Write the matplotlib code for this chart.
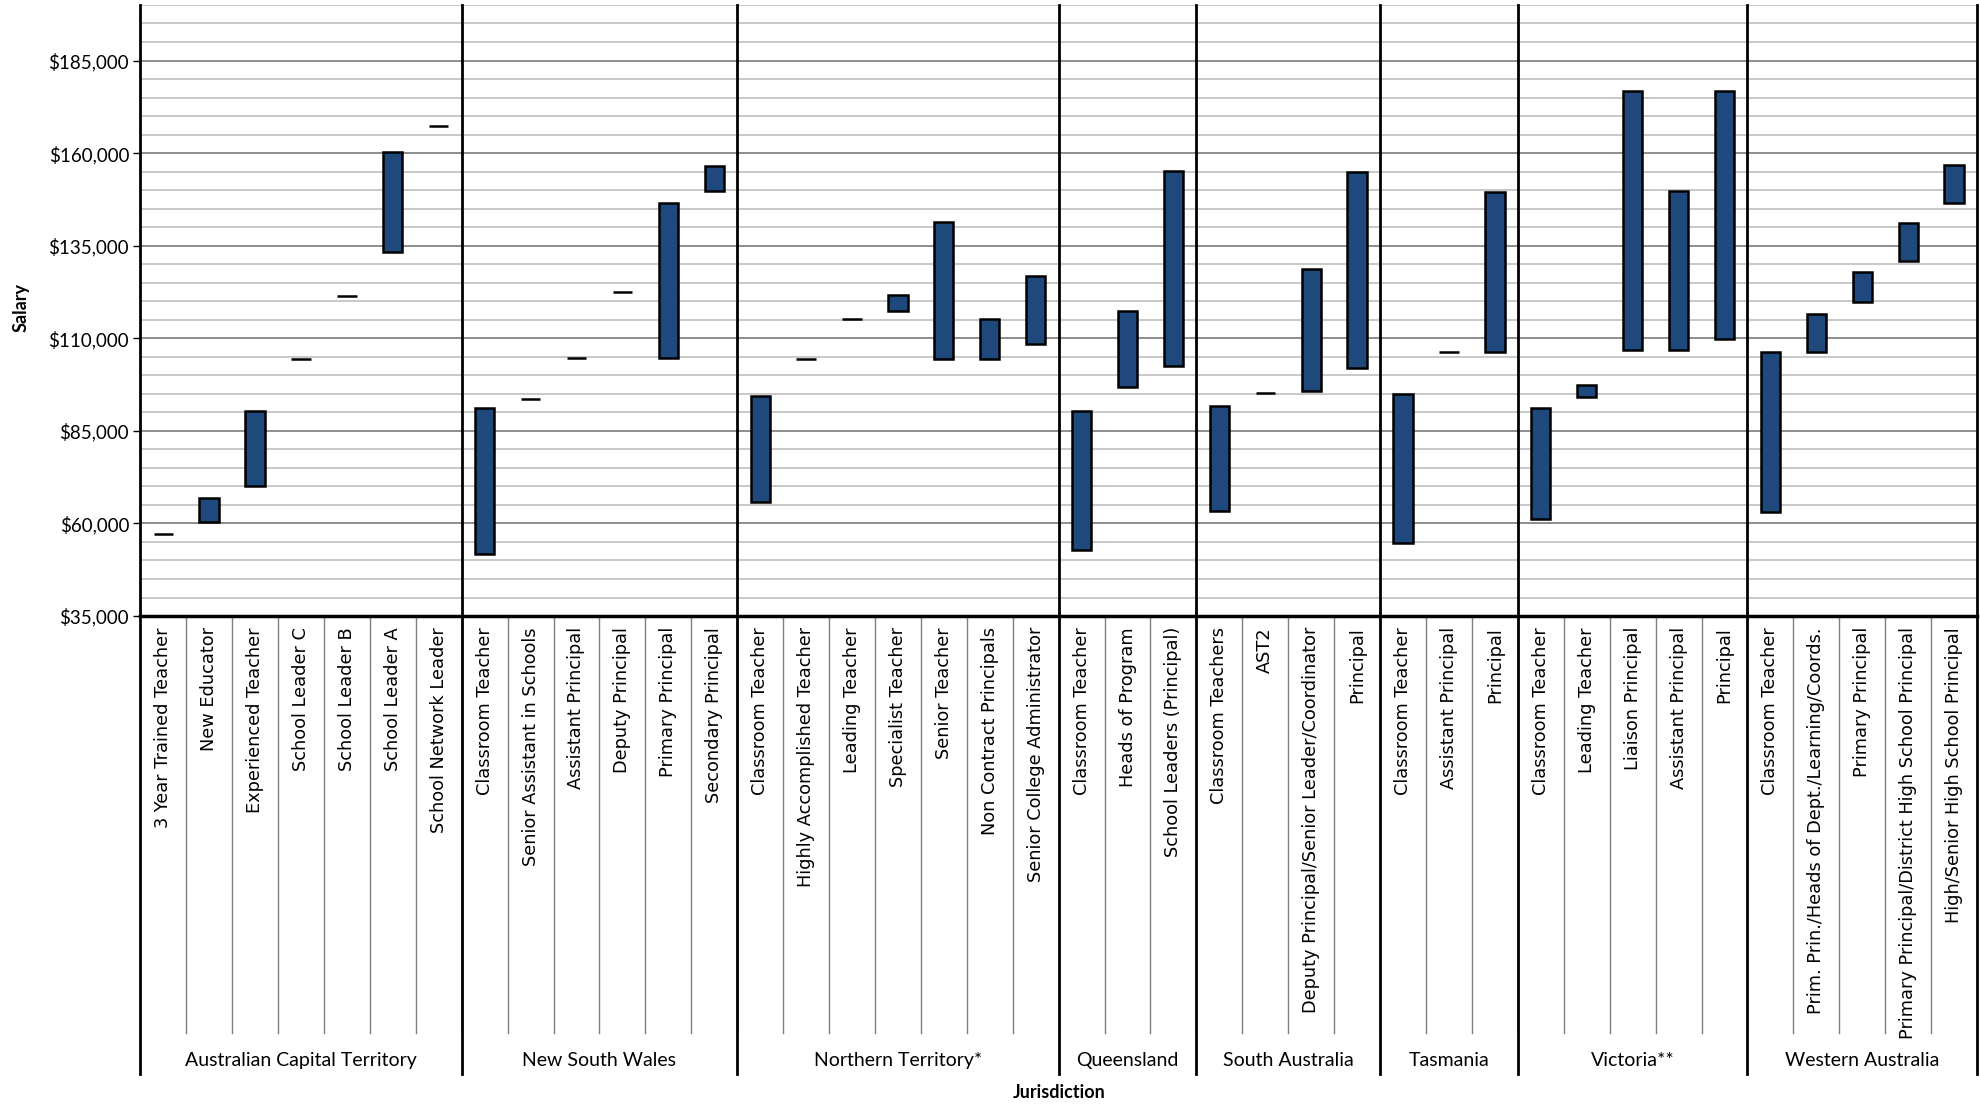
import matplotlib.pyplot as plt
from matplotlib.ticker import MultipleLocator, FuncFormatter
import matplotlib.transforms as mtransforms

# jurisdictions and how many roles each has
jurisdictions = ['Australian Capital Territory', 'New South Wales', 'Northern Territory*',
                 'Queensland', 'South Australia', 'Tasmania', 'Victoria**', 'Western Australia']
group_sizes = [7, 6, 7, 3, 4, 3, 5, 5]

roles = [
    '3 Year Trained Teacher', 'New Educator', 'Experienced Teacher', 'School Leader C',
    'School Leader B', 'School Leader A', 'School Network Leader',
    'Classroom Teacher', 'Senior Assistant in Schools', 'Assistant Principal',
    'Deputy Principal', 'Primary Principal', 'Secondary Principal',
    'Classroom Teacher', 'Highly Accomplished Teacher', 'Leading Teacher',
    'Specialist Teacher', 'Senior Teacher', 'Non Contract Principals',
    'Senior College Administrator',
    'Classroom Teacher', 'Heads of Program', 'School Leaders (Principal)',
    'Classroom Teachers', 'AST2', 'Deputy Principal/Senior Leader/Coordinator', 'Principal',
    'Classroom Teacher', 'Assistant Principal', 'Principal',
    'Classroom Teacher', 'Leading Teacher', 'Liaison Principal', 'Assistant Principal',
    'Principal',
    'Classroom Teacher', 'Prim. Prin./Heads of Dept./Learning/Coords.', 'Primary Principal',
    'Primary Principal/District High School Principal', 'High/Senior High School Principal',
]

salary_low = [
    57200, 60400, 70100, 104300, 121500, 133400, 167200,
    51700, 93500, 104800, 122400, 104800, 149900,
    65800, 104400, 115300, 117400, 104400, 104400, 108500,
    52800, 96800, 102500,
    63400, 95100, 95700, 102000,
    54600, 106300, 106300,
    61100, 94100, 106800, 106800, 109700,
    63200, 106300, 119900, 130800, 146500,
]
salary_high = [
    57200, 66800, 90500, 104300, 121500, 160200, 167200,
    91100, 93500, 104800, 122400, 146500, 156500,
    94300, 104400, 115300, 121800, 141500, 115300, 126800,
    90300, 117500, 155200,
    91800, 95100, 128800, 154900,
    94900, 106300, 149500,
    91300, 97400, 176800, 149800, 176800,
    106300, 116500, 127900, 141000, 156700,
]

y_ticks = [35000, 60000, 85000, 110000, 135000, 160000, 185000]

fig = plt.figure(figsize=(19.81, 11.06), dpi=100)
ax = fig.add_axes([0.0708, 0.443, 0.9272, 0.5525])

x = list(range(len(roles)))
heights = [h - l for l, h in zip(salary_low, salary_high)]
ax.bar(x, heights, bottom=salary_low, width=0.42, color='#1F497D',
       edgecolor='black', linewidth=1.8, zorder=3)

ax.set_xlim(-0.5, len(roles) - 0.5)
ax.set_ylim(35000, 200000)
ax.set_yticks(y_ticks)
ax.yaxis.set_minor_locator(MultipleLocator(5000))
ax.yaxis.set_major_formatter(FuncFormatter(lambda v, p: f'${v:,.0f}'))
ax.grid(axis='y', which='minor', color='#c4c4c4', linewidth=1.3, zorder=0)
ax.grid(axis='y', which='major', color='#858585', linewidth=1.3, zorder=1)
ax.set_xticks([])
ax.tick_params(axis='y', which='major', length=5, width=1, labelsize=13.5, pad=3)
ax.tick_params(axis='y', which='minor', length=0)
for lab in ax.get_yticklabels():
    lab.set_family('Lato')

for s in ['top', 'right', 'left']:
    ax.spines[s].set_visible(False)
ax.spines['bottom'].set_linewidth(2.5)
ax.spines['bottom'].set_zorder(5)

trans = mtransforms.blended_transform_factory(ax.transData, ax.transAxes)

# category labels and thin separators
for i, r in enumerate(roles):
    ax.text(i, -0.018, r, rotation=90, ha='center', va='top', fontsize=12.8,
            family='DejaVu Sans', transform=trans)
    if i > 0:
        ax.plot([i - 0.5, i - 0.5], [0, -0.683], color='#7f7f7f', linewidth=1,
                transform=trans, clip_on=False)

# jurisdiction separators and labels
start = 0
bounds = [-0.5]
for name, n in zip(jurisdictions, group_sizes):
    centre = start + (n - 1) / 2
    ax.text(centre, -0.728, name, ha='center', va='center', fontsize=14,
            family='Lato', transform=trans)
    start += n
    bounds.append(start - 0.5)
for b in bounds:
    ax.plot([b, b], [1, -0.75], color='black', linewidth=2, transform=trans,
            clip_on=False, zorder=6)

fig.text(0.0106, 0.722, 'Salary', rotation=90, ha='center', va='center',
         fontsize=13, fontweight='bold', family='Lato')
fig.text(0.5345, 0.012, 'Jurisdiction', ha='center', va='center',
         fontsize=13, fontweight='bold', family='Lato')

fig.savefig('out.png', dpi=100)
